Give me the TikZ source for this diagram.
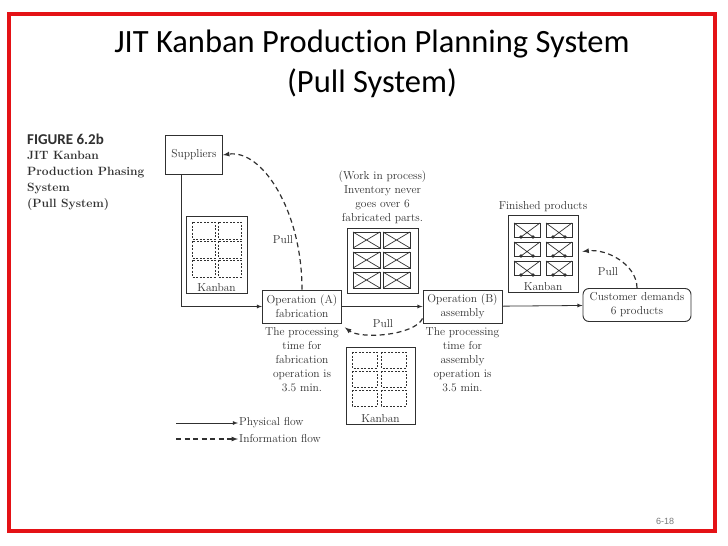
\documentclass[tikz,border=0pt]{standalone}
\usepackage{fontspec}
\usepackage{tikz}
\newfontfamily\slidefont[Ligatures=NoCommon]{Carlito}
\newfontfamily\pagefont{Liberation Sans}
\usetikzlibrary{arrows,shapes,positioning}
\definecolor{frame}{RGB}{228,18,22}
\definecolor{ink}{RGB}{48,48,48}
\definecolor{pageno}{RGB}{120,120,120}
\newcommand{\figfont}{\rmfamily\fontsize{11.5}{14}\selectfont}
\tikzset{
    box/.style={
        rectangle, draw=ink, line width=0.9pt,
        inner sep=0pt, fill=white
    },
    op/.style={
        box, minimum width=79pt, minimum height=33pt,
        align=center, text=ink, font=\figfont
    },
    lbl/.style={
        text=ink, font=\figfont, inner sep=1pt
    },
    note/.style={
        lbl, align=center
    },
    card/.style={
        draw=ink, line width=0.6pt,
        dash pattern=on 2pt off 1.5pt
    },
    part/.style={
        draw=ink, line width=0.7pt
    },
    flow/.style={
        draw=ink, line width=0.8pt,
        -latex
    },
    info/.style={
        flow, line width=1.2pt,
        dash pattern=on 5pt off 3.5pt
    }
}

\begin{document}
\begin{tikzpicture}[x=1pt,y=-1pt]
    \useasboundingbox (0,0) rectangle (728,546);
    \draw[frame, line width=4pt] (9,14) rectangle (715,531);
    \node[font=\slidefont\fontsize{32.5}{40}\selectfont, align=center] (title) at (372,64)
        {JIT Kanban Production Planning System\\(Pull System)};
    \node[font=\pagefont\fontsize{9}{10}\selectfont, text=pageno] (pg) at (665,521) {6-18};

    % caption
    \node[anchor=north west, inner sep=0pt, text=ink,
        font=\slidefont\bfseries\fontsize{15}{16}\selectfont] (fig) at (27,134) {FIGURE 6.2b};
    \node[anchor=north west, inner sep=0pt, text=ink, align=left,
        font=\rmfamily\bfseries\fontsize{12}{16}\selectfont] (figcap) at (27,151)
        {JIT Kanban\\Production Phasing\\System\\(Pull System)};

    % main boxes
    \node[box, minimum width=57pt, minimum height=39pt, text=ink, font=\figfont] (sup) at (194,155) {Suppliers};
    \node[op] (opA) at (302,306.5) {Operation (A)\\fabrication};
    \node[op] (opB) at (462.5,306.5) {Operation (B)\\assembly};
    \node[op, rounded corners=6pt, minimum width=108pt] (cust) at (637,305) {Customer demands\\6 products};

    % kanban and stock boxes
    \node[box, minimum width=61pt, minimum height=77pt] (kanA) at (216.5,254.5) {};
    \node[box, minimum width=71pt, minimum height=65pt] (wip) at (382.5,261) {};
    \node[box, minimum width=70pt, minimum height=77pt] (fin) at (543,253.5) {};
    \node[box, minimum width=69pt, minimum height=77pt] (kanB) at (380.5,385.5) {};

    \foreach \x in {192,218}
        \foreach \y in {222,241,260}
            \draw[card] (\x,\y) rectangle ++(23,17);
    \foreach \x in {352,381}
        \foreach \y in {352,371,390}
            \draw[card] (\x,\y) rectangle ++(25,16);
    \foreach \x in {353,383}
        \foreach \y in {232,252,272} {
            \draw[part] (\x,\y) rectangle ++(27,16);
            \draw[part] (\x,\y) -- ++(27,16) (\x+27,\y) -- ++(-27,16);
        }
    \foreach \x in {514,546}
        \foreach \y in {223,242,261} {
            \draw[part] (\x,\y) rectangle ++(26,14);
            \draw[part] (\x,\y) -- ++(19,14) (\x+26,\y) -- ++(-19,14);
            \fill[ink] (\x+7,\y+14) circle (1.9pt) (\x+19,\y+14) circle (1.9pt);
        }
    \node[lbl, above=1pt of kanA.south] (kanAlbl) {Kanban};
    \node[lbl, above=1pt of fin.south] (finlbl) {Kanban};
    \node[lbl, above=1pt of kanB.south] (kanBlbl) {Kanban};

    % notes
    \node[lbl, above=2pt of fin] (finnote) {Finished products};
    \node[note, above=3pt of wip] (wipnote) {(Work in process)\\Inventory never\\goes over 6\\fabricated parts.};
    \node[note, below=3pt of opA] (opAnote) {The processing\\time for\\fabrication\\operation is\\3.5 min.};
    \node[note, below=3pt of opB] (opBnote) {The processing\\time for\\assembly\\operation is\\3.5 min.};

    % physical flow
    \draw[flow] ([xshift=-13pt]sup.south) |- (opA.west);
    \draw[flow] (opA) -- (opB);
    \draw[flow] (opB) -- (cust);

    % information flow
    \draw[info] (opA.north) .. controls +(0,-79) and +(39,-6) .. (sup.east);
    \draw[info] ([yshift=5pt]opB.south west) .. controls +(-8,17) and +(16,12) .. ([xshift=3pt,yshift=-4pt]opA.south east);
    \draw[info] (cust.north) .. controls +(0,-23) and +(25,-3) .. ([xshift=4pt,yshift=2pt]fin.east);
    \node[lbl] (pullA) at (283,240) {Pull};
    \node[lbl] (pullB) at (383,324) {Pull};
    \node[lbl] (pullC) at (608,272) {Pull};

    % legend
    \coordinate (physL) at (176,423);
    \coordinate (infoL) at (176,439);
    \node[lbl, anchor=west] (phys) at (238,423) {Physical flow};
    \node[lbl, anchor=west] (infoflow) at (238,439) {Information flow};
    \draw[flow] (physL) -- (phys.west);
    \draw[info] (infoL) -- (infoflow.west);
\end{tikzpicture}
\end{document}
